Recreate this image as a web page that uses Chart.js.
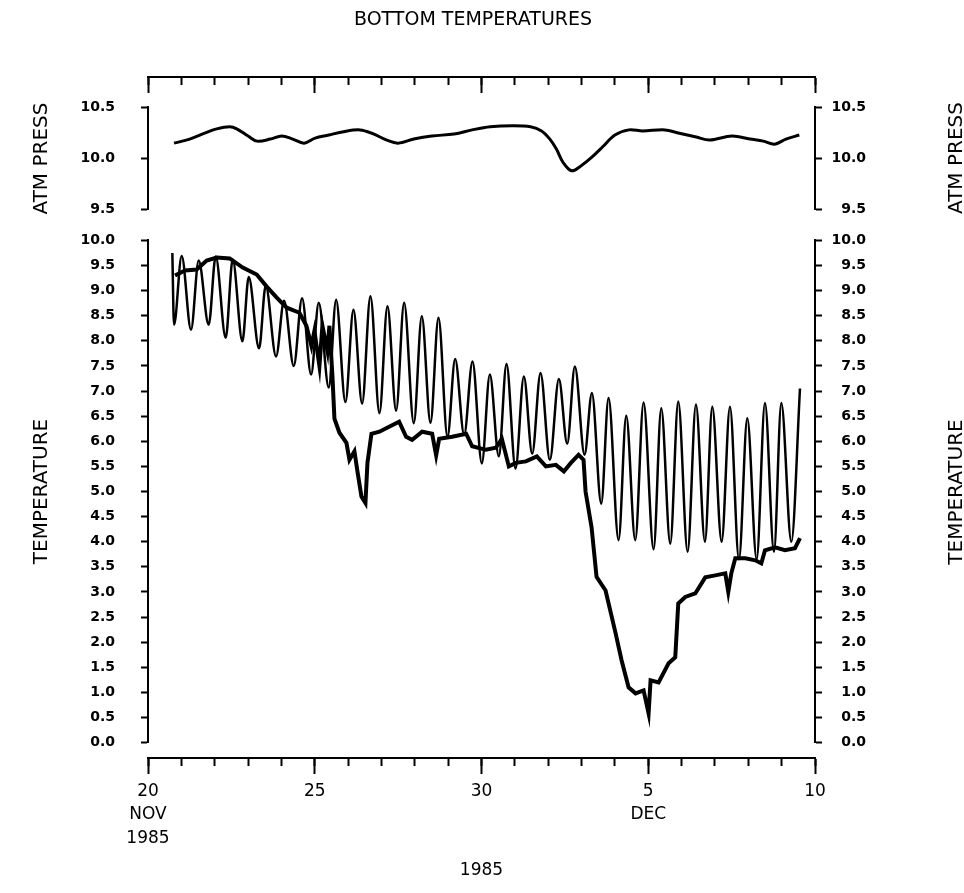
<!DOCTYPE html>
<html>
<head>
<meta charset="utf-8">
<script src="https://cdn.jsdelivr.net/npm/chart.js@4.4.1/dist/chart.umd.min.js"></script>
<style>
html,body{margin:0;padding:0;background:#fff;}
#wrap{position:relative;width:964px;height:893px;overflow:hidden;background:#fff;}
canvas{position:absolute;left:0;}
.rt{position:absolute;font-family:"DejaVu Sans";font-size:20px;line-height:1;color:#000;white-space:nowrap;transform:translate(-50%,-50%) rotate(-90deg);}
</style>
</head>
<body>
<div id="wrap">
<canvas id="frame" width="964" height="100" style="top:0px"></canvas>
<canvas id="press" width="964" height="171" style="top:73px"></canvas>
<canvas id="temp" width="964" height="571" style="top:206px"></canvas>
<canvas id="axis" width="964" height="193" style="top:700px"></canvas>
<div class="rt" style="left:955px;top:158px">ATM PRESS</div>
<div class="rt" style="left:955px;top:492px">TEMPERATURE</div>
</div>
<script>
// ---------------- DATA (x = day counted from 1 Nov 1985; 35 = 5 Dec) ----------------
const xTickValues = [20, 25, 30, 35, 40];
const xTickLabels = [['20', 'NOV', '1985'], '25', '30', ['5', 'DEC'], '10'];

const pressTickValues = [9.5, 10.0, 10.5];
const pressTickLabels = ['9.5', '10.0', '10.5'];

const tempTickValues = [0, 0.5, 1, 1.5, 2, 2.5, 3, 3.5, 4, 4.5, 5, 5.5, 6, 6.5, 7, 7.5, 8, 8.5, 9, 9.5, 10];
const tempTickLabels = ['0.0','0.5','1.0','1.5','2.0','2.5','3.0','3.5','4.0','4.5','5.0','5.5','6.0','6.5','7.0','7.5','8.0','8.5','9.0','9.5','10.0'];

// atmospheric pressure
const pressDays = [20.78, 21.25, 21.72, 22.06, 22.45, 22.66, 23.00, 23.27, 23.67, 24.01,
  24.34, 24.68, 25.01, 25.42, 25.82, 26.36, 26.76, 27.16, 27.50, 27.97,
  28.51, 29.18, 29.72, 30.26, 30.93, 31.47, 31.80, 32.05, 32.25, 32.45,
  32.70, 32.95, 33.30, 33.65, 34.00, 34.42, 34.83, 35.50, 35.90, 36.44,
  36.84, 37.51, 38.05, 38.45, 38.79, 39.13, 39.53];
const pressVals = [10.15, 10.19, 10.25, 10.29, 10.31, 10.29, 10.22, 10.17, 10.19, 10.22,
  10.19, 10.15, 10.20, 10.23, 10.26, 10.28, 10.24, 10.18, 10.15, 10.19,
  10.22, 10.24, 10.28, 10.31, 10.32, 10.31, 10.27, 10.19, 10.09, 9.96,
  9.88, 9.92, 10.01, 10.12, 10.23, 10.28, 10.27, 10.28, 10.25, 10.21,
  10.18, 10.22, 10.19, 10.17, 10.14, 10.19, 10.23];

// bottom temperature, tidal (oscillating) record: peaks and troughs
const tideDays = [20.73, 20.78, 21.01, 21.29, 21.52, 21.82, 22.03, 22.33, 22.54, 22.83,
  23.02, 23.33, 23.53, 23.84, 24.08, 24.37, 24.62, 24.89, 25.12, 25.42,
  25.64, 25.92, 26.16, 26.42, 26.67, 26.94, 27.18, 27.44, 27.68, 27.97,
  28.21, 28.47, 28.71, 28.98, 29.21, 29.48, 29.73, 30.01, 30.25, 30.52,
  30.75, 31.02, 31.27, 31.52, 31.77, 32.05, 32.32, 32.57, 32.80, 33.09,
  33.31, 33.59, 33.81, 34.11, 34.34, 34.61, 34.86, 35.16, 35.39, 35.66,
  35.90, 36.18, 36.43, 36.70, 36.92, 37.20, 37.45, 37.72, 37.97, 38.25,
  38.50, 38.77, 38.99, 39.29, 39.55];
const tideVals = [9.75, 8.32, 9.69, 8.22, 9.60, 8.32, 9.68, 8.06, 9.62, 7.99,
  9.27, 7.85, 9.10, 7.69, 8.80, 7.50, 8.85, 7.33, 8.76, 7.07,
  8.82, 6.78, 8.62, 6.75, 8.89, 6.56, 8.69, 6.61, 8.76, 6.36,
  8.49, 6.37, 8.46, 6.09, 7.64, 6.13, 7.59, 5.56, 7.33, 5.70,
  7.54, 5.46, 7.29, 5.75, 7.36, 5.63, 7.24, 5.95, 7.49, 5.73,
  6.96, 4.76, 6.86, 4.03, 6.51, 4.03, 6.77, 3.85, 6.66, 3.96,
  6.79, 3.80, 6.73, 4.00, 6.69, 4.00, 6.69, 3.65, 6.46, 3.65,
  6.76, 3.80, 6.76, 4.00, 7.05];

// bottom temperature, second (heavy) record
const heavyDays = [20.81, 21.11, 21.46, 21.76, 22.06, 22.45, 22.84, 23.26, 23.56, 23.86,
  24.16, 24.54, 24.75, 24.90, 24.99, 25.14, 25.23, 25.38, 25.44, 25.53,
  25.59, 25.74, 25.95, 26.04, 26.19, 26.28, 26.40, 26.52, 26.58, 26.70,
  26.94, 27.23, 27.53, 27.74, 27.92, 28.22, 28.52, 28.64, 28.73, 29.12,
  29.54, 29.72, 30.13, 30.43, 30.61, 30.82, 31.03, 31.33, 31.66, 31.93,
  32.23, 32.47, 32.68, 32.91, 33.06, 33.12, 33.30, 33.45, 33.72, 34.02,
  34.20, 34.41, 34.62, 34.86, 35.01, 35.07, 35.31, 35.61, 35.81, 35.90,
  36.11, 36.41, 36.71, 37.01, 37.31, 37.40, 37.49, 37.61, 37.91, 38.21,
  38.39, 38.50, 38.80, 39.10, 39.40, 39.55];
const heavyVals = [9.30, 9.40, 9.42, 9.60, 9.66, 9.64, 9.46, 9.32, 9.08, 8.86,
  8.66, 8.56, 8.30, 7.90, 8.20, 7.50, 8.30, 7.80, 8.30, 7.30,
  6.45, 6.17, 5.97, 5.63, 5.80, 5.40, 4.90, 4.77, 5.57, 6.15,
  6.19, 6.29, 6.39, 6.09, 6.03, 6.19, 6.15, 5.72, 6.05, 6.09,
  6.15, 5.90, 5.83, 5.87, 6.05, 5.50, 5.57, 5.60, 5.70, 5.50,
  5.53, 5.40, 5.57, 5.73, 5.63, 5.00, 4.29, 3.30, 3.03, 2.18,
  1.64, 1.10, 0.98, 1.04, 0.58, 1.24, 1.20, 1.58, 1.70, 2.77,
  2.90, 2.97, 3.29, 3.33, 3.37, 3.00, 3.37, 3.67, 3.67, 3.63,
  3.57, 3.83, 3.89, 3.83, 3.87, 4.07];

// ---------------- HELPERS ----------------
const FONT = 'DejaVu Sans';
const BLACK = '#000';
const zip = (xs, ys) => xs.map((x, i) => ({x: x, y: ys[i]}));

const baseOpts = {
  responsive: false,
  animation: false,
  events: [],
  plugins: {legend: {display: false}, tooltip: {enabled: false}, title: {display: false}}
};

function xHidden() {
  return {type: 'linear', min: 20, max: 40, display: false};
}

function yAxis(pos, min, max, values, labels, titleText) {
  const left = pos === 'left';
  return {
    type: 'linear', position: pos, min: min, max: max,
    afterBuildTicks: s => { s.ticks = values.map(v => ({value: v})); },
    afterFit: s => { s.width = left ? 148 : 51; },
    border: {display: true, color: BLACK, width: 2},
    grid: {display: true, drawOnChartArea: false, drawTicks: true, tickLength: 7, tickWidth: 2, tickColor: BLACK},
    ticks: {
      color: BLACK, font: {family: FONT, size: 14, weight: 'bold'},
      padding: 26, crossAlign: left ? 'near' : 'far',
      callback: v => labels[values.indexOf(v)]
    },
    title: left ? {display: true, text: titleText, color: BLACK,
      font: {family: FONT, size: 20}, padding: {top: 30, bottom: 0}} : {display: false}
  };
}

function xFrameAxes(withLabels) {
  return {
    xm: {
      type: 'linear', position: 'bottom', min: 20, max: 40, weight: 0,
      afterFit: s => { s.height = 0; },
      border: {display: true, color: BLACK, width: 2},
      grid: {display: true, drawOnChartArea: false, drawTicks: true, tickLength: 8, tickWidth: 2, tickColor: BLACK},
      ticks: {display: false, stepSize: 1}
    },
    x: {
      type: 'linear', position: 'bottom', min: 20, max: 40, weight: 1,
      afterBuildTicks: s => { s.ticks = xTickValues.map(v => ({value: v})); },
      afterFit: s => { s.height = withLabels ? 135 : 23; },
      border: {display: true, color: BLACK, width: 2},
      grid: {display: true, drawOnChartArea: false, drawTicks: true, tickLength: 16, tickWidth: 2, tickColor: BLACK},
      ticks: {
        display: withLabels, color: BLACK, padding: 6, maxRotation: 0, autoSkip: false,
        font: {family: FONT, size: 17, lineHeight: 1.37},
        callback: v => xTickLabels[xTickValues.indexOf(v)]
      },
      title: withLabels ? {display: true, text: '1985', color: BLACK,
        font: {family: FONT, size: 17}, padding: {top: 0, bottom: 12}} : {display: false}
    }
  };
}

// ---------------- TOP FRAME (title + day ticks) ----------------
new Chart(document.getElementById('frame'), {
  type: 'line',
  data: {datasets: [{data: [], xAxisID: 'x', yAxisID: 'y'}]},
  options: Object.assign({}, baseOpts, {
    layout: {padding: {left: 0, right: 18, top: 0, bottom: 0}},
    plugins: {
      legend: {display: false}, tooltip: {enabled: false},
      title: {display: true, text: 'BOTTOM TEMPERATURES', color: BLACK,
        font: {family: FONT, size: 19, weight: 'normal'}, padding: {top: 9, bottom: 5}}
    },
    scales: Object.assign(xFrameAxes(false), {
      y: {position: 'left', afterFit: s => { s.width = 148; },
        grid: {display: false}, border: {display: false}, ticks: {display: false}},
      yr: {position: 'right', afterFit: s => { s.width = 131; },
        grid: {display: false}, border: {display: false}, ticks: {display: false}}
    })
  })
});

// ---------------- PRESSURE PANEL ----------------
new Chart(document.getElementById('press'), {
  type: 'line',
  data: {datasets: [{
    data: zip(pressDays, pressVals), yAxisID: 'y', xAxisID: 'x',
    borderColor: BLACK, borderWidth: 3, pointRadius: 0, tension: 0.35, fill: false
  }]},
  options: Object.assign({}, baseOpts, {
    layout: {padding: {left: 0, right: 98, top: 0, bottom: 0}},
    scales: {
      x: xHidden(),
      y: yAxis('left', 9.5, 10.5, pressTickValues, pressTickLabels, 'ATM PRESS'),
      yr: yAxis('right', 9.5, 10.5, pressTickValues, pressTickLabels, 'ATM PRESS')
    }
  })
});

// ---------------- TEMPERATURE PANEL ----------------
new Chart(document.getElementById('temp'), {
  type: 'line',
  data: {datasets: [
    {data: zip(tideDays, tideVals), yAxisID: 'y', xAxisID: 'x',
      borderColor: BLACK, borderWidth: 2.5, pointRadius: 0, cubicInterpolationMode: 'monotone', fill: false},
    {data: zip(heavyDays, heavyVals), yAxisID: 'y', xAxisID: 'x',
      borderColor: BLACK, borderWidth: 4, pointRadius: 0, tension: 0, fill: false}
  ]},
  options: Object.assign({}, baseOpts, {
    layout: {padding: {left: 0, right: 98, top: 0, bottom: 0}},
    scales: {
      x: xHidden(),
      y: yAxis('left', 0, 10, tempTickValues, tempTickLabels, 'TEMPERATURE'),
      yr: yAxis('right', 0, 10, tempTickValues, tempTickLabels, 'TEMPERATURE')
    }
  })
});

// ---------------- BOTTOM DATE AXIS ----------------
new Chart(document.getElementById('axis'), {
  type: 'line',
  data: {datasets: [{data: [], xAxisID: 'x', yAxisID: 'y'}]},
  options: Object.assign({}, baseOpts, {
    layout: {padding: {left: 148, right: 149, top: 0, bottom: 0}},
    scales: Object.assign(xFrameAxes(true), {
      y: {display: false}
    })
  })
});
</script>
</body>
</html>
